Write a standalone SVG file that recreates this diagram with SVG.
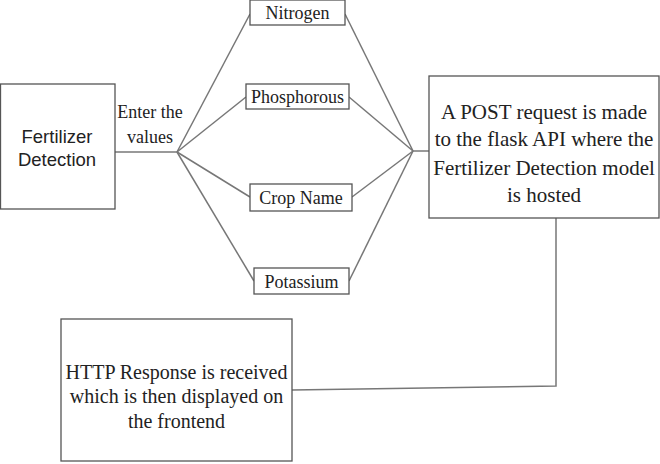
<svg xmlns="http://www.w3.org/2000/svg" width="660" height="464" viewBox="0 0 660 464">
<style>
.box{fill:#fff;stroke:#555;stroke-width:1.3}
.con{fill:none;stroke:#777;stroke-width:1.5}
.serif{fill:#222;text-anchor:middle}
.sans{fill:#222;text-anchor:middle}
</style>
<rect width="660" height="464" fill="#fff"/>
<g id="connectors">
<polyline class="con" points="115,152 177,152"/>
<line class="con" x1="177" y1="152" x2="250" y2="14"/>
<line class="con" x1="177" y1="152" x2="246" y2="97"/>
<line class="con" x1="177" y1="152" x2="250" y2="197"/>
<line class="con" x1="177" y1="152" x2="254" y2="281"/>
<line class="con" x1="345" y1="14" x2="413" y2="151"/>
<line class="con" x1="349" y1="97" x2="413" y2="151"/>
<line class="con" x1="352" y1="197" x2="413" y2="151"/>
<line class="con" x1="349" y1="281" x2="413" y2="151"/>
<line class="con" x1="413" y1="151" x2="429" y2="151"/>
<polyline class="con" points="556,218 556,386 292,390"/>
</g>
<g id="fertilizer-detection" font-family="Liberation Sans, Arial, sans-serif">
<rect class="box" x="0.5" y="84" width="114.5" height="125"/>
<text class="sans" x="57" y="143" font-size="18.5">Fertilizer</text>
<text class="sans" x="57" y="166" font-size="18.5">Detection</text>
</g>
<g id="enter-label" font-family="Liberation Serif, Times New Roman, serif">
<text class="serif" x="150" y="118" font-size="18">Enter the</text>
<text class="serif" x="150" y="143" font-size="18">values</text>
</g>
<g id="nitrogen" font-family="Liberation Serif, Times New Roman, serif">
<rect class="box" x="250" y="0" width="95" height="25"/>
<text class="serif" x="297.5" y="19" font-size="18">Nitrogen</text>
</g>
<g id="phosphorous" font-family="Liberation Serif, Times New Roman, serif">
<rect class="box" x="246" y="84" width="103" height="25"/>
<text class="serif" x="297.5" y="103" font-size="18">Phosphorous</text>
</g>
<g id="crop-name" font-family="Liberation Serif, Times New Roman, serif">
<rect class="box" x="250" y="184" width="102" height="27"/>
<text class="serif" x="301" y="204" font-size="18">Crop Name</text>
</g>
<g id="potassium" font-family="Liberation Serif, Times New Roman, serif">
<rect class="box" x="254" y="268" width="95" height="26"/>
<text class="serif" x="301.5" y="288" font-size="18">Potassium</text>
</g>
<g id="post-request" font-family="Liberation Serif, Times New Roman, serif">
<rect class="box" x="429" y="76" width="230" height="142"/>
<text class="serif" x="544" y="119" font-size="21">A POST request is made</text>
<text class="serif" x="544" y="146" font-size="21">to the flask API where the</text>
<text class="serif" x="544" y="175" font-size="21">Fertilizer Detection model</text>
<text class="serif" x="544" y="202" font-size="21">is hosted</text>
</g>
<g id="http-response" font-family="Liberation Serif, Times New Roman, serif">
<rect class="box" x="61" y="319" width="231" height="142"/>
<text class="serif" x="176.5" y="379" font-size="20">HTTP Response is received</text>
<text class="serif" x="176.5" y="403" font-size="20">which is then displayed on</text>
<text class="serif" x="176.5" y="428" font-size="20">the frontend</text>
</g>
</svg>
